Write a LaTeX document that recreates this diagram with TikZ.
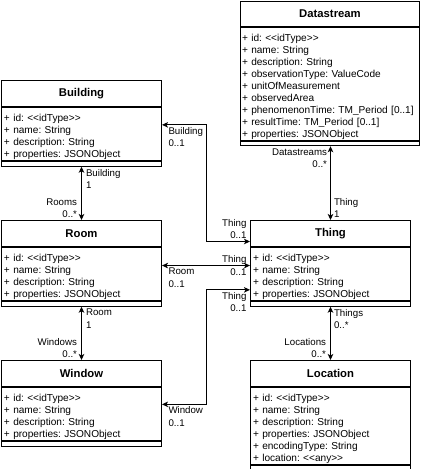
\documentclass[tikz,border=0pt]{standalone}
\usepackage{fontspec}
\setmainfont{Liberation Sans}
\usetikzlibrary{positioning,arrows.meta}
\frenchspacing

\tikzset{
  classname/.style={draw,line width=1pt,minimum width=160pt,minimum height=26pt,
    inner sep=0pt,anchor=north west,font=\bfseries\fontsize{11.3}{13}\selectfont},
  classattr/.style={draw,line width=1pt,text width=155pt,inner xsep=2.5pt,inner ysep=0pt,
    align=left,text height=13.5pt,font=\fontsize{10.1}{12.1}\selectfont},
  classfoot/.style={draw,line width=1pt,minimum width=160pt,minimum height=5pt,inner sep=0pt},
  rolel/.style={align=left,inner sep=2pt,font=\fontsize{9.7}{12.3}\selectfont},
  roler/.style={align=right,inner sep=2pt,font=\fontsize{9.7}{12.3}\selectfont},
  assoc/.style={<->,line width=1pt}
}

\begin{document}
\begin{tikzpicture}[x=1pt,y=-1pt,>={Stealth[length=6pt,width=5.5pt,inset=1.5pt]}]
  \path[fill=white,use as bounding box] (0,0) rectangle (421,469);

  % classes
  \node[classname,minimum width=179pt,minimum height=25pt] (datastream) at (240,1) {Datastream};
  \node[classattr,text width=176pt,inner xsep=1.5pt,text depth=99.7pt,below=0pt of datastream] (datastream-a)
    {+ id: <{}<idType>{}>\\+ name: String\\+ description: String\\+ observationType: ValueCode\\
     + unitOfMeasurement\\+ observedArea\\+ phenomenonTime: TM\_Period [0..1]\\
     + resultTime: TM\_Period [0..1]\\+ properties: JSONObject};
  \node[classfoot,minimum width=179pt,minimum height=4pt,below=0pt of datastream-a] (datastream-f) {};

  \node[classname] (building) at (1,80) {Building};
  \node[classattr,text depth=39.2pt,below=0pt of building] (building-a)
    {+ id: <{}<idType>{}>\\+ name: String\\+ description: String\\+ properties: JSONObject};
  \node[classfoot,below=0pt of building-a] (building-f) {};

  \node[classname] (room) at (1,220) {Room};
  \node[classattr,text depth=39.2pt,below=0pt of room] (room-a)
    {+ id: <{}<idType>{}>\\+ name: String\\+ description: String\\+ properties: JSONObject};
  \node[classfoot,below=0pt of room-a] (room-f) {};

  \node[classname] (thing) at (250,220) {Thing};
  \node[classattr,text depth=39.2pt,below=0pt of thing] (thing-a)
    {+ id: <{}<idType>{}>\\+ name: String\\+ description: String\\+ properties: JSONObject};
  \node[classfoot,below=0pt of thing-a] (thing-f) {};

  \node[classname] (window) at (1,360) {Window};
  \node[classattr,text depth=39.2pt,below=0pt of window] (window-a)
    {+ id: <{}<idType>{}>\\+ name: String\\+ description: String\\+ properties: JSONObject};
  \node[classfoot,below=0pt of window-a] (window-f) {};

  \node[classname] (location) at (250,360) {Location};
  \node[classattr,text depth=63.4pt,below=0pt of location] (location-a)
    {+ id: <{}<idType>{}>\\+ name: String\\+ description: String\\+ properties: JSONObject\\
     + encodingType: String\\+ location: <{}<any>{}>};
  \node[classfoot,below=0pt of location-a] (location-f) {};

  % associations
  \draw[assoc] (building-f.south) -- (room.north)
    node[rolel,pos=0,anchor=north west,xshift=2pt] (building-room) {Building\\1}
    node[roler,pos=1,anchor=south east,xshift=-2pt] (rooms-building) {Rooms\\0..*};
  \draw[assoc] (room-f.south) -- (window.north)
    node[rolel,pos=0,anchor=north west,xshift=2pt] (room-window) {Room\\1}
    node[roler,pos=1,anchor=south east,xshift=-2pt] (windows-room) {Windows\\0..*};
  \draw[assoc] (datastream-f.south -| thing.north) -- (thing.north)
    node[roler,pos=0,anchor=north east,xshift=-1pt] (datastreams-thing) {Datastreams\\0..*}
    node[rolel,pos=1,anchor=south west,xshift=1pt] (thing-datastream) {Thing\\1};
  \draw[assoc] (thing-f.south) -- (location.north)
    node[rolel,pos=0,anchor=north west,xshift=1pt] (things-location) {Things\\0..*}
    node[roler,pos=1,anchor=south east,xshift=-2pt] (locations-thing) {Locations\\0..*};
  \draw[assoc] ([yshift=9pt]building-a.east)
    -- node[rolel,pos=0,anchor=north west,xshift=4pt] (building-thing) {Building\\0..1} ++(44,0)
    |- ([yshift=-8pt]thing.west)
    node[roler,pos=1,anchor=south east,xshift=-1pt] (thing-building) {Thing\\0..1};
  \draw[assoc] ([yshift=8.3pt]room-a.east) -- ([yshift=8.3pt]thing-a.west)
    node[rolel,pos=0,anchor=north west,xshift=4pt] (room-thing) {Room\\0..1}
    node[roler,pos=1,anchor=east,xshift=-1pt] (thing-room) {Thing\\0..1};
  \draw[assoc] ([yshift=9.5pt]window-a.east)
    -- node[rolel,pos=0,anchor=north west,xshift=4pt] (window-thing) {Window\\0..1} ++(44,0)
    |- ([yshift=-16pt]thing-a.west)
    node[roler,pos=1,anchor=north east,xshift=-1pt] (thing-window) {Thing\\0..1};
\end{tikzpicture}
\end{document}
